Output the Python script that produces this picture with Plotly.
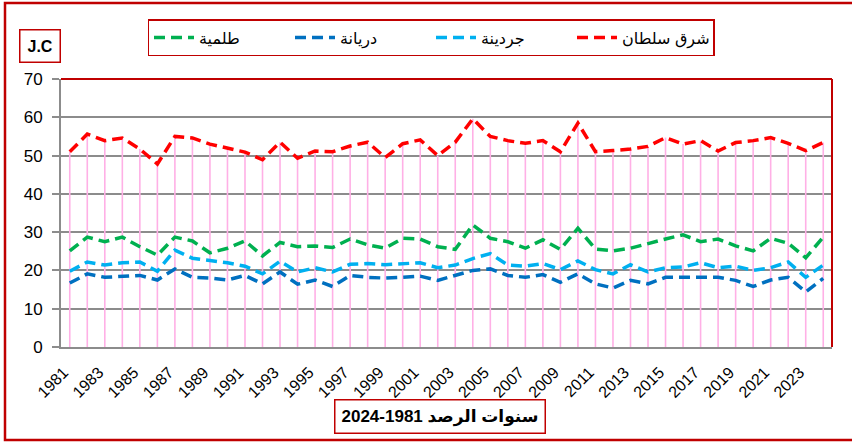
import plotly.graph_objects as go

years = list(range(1981, 2025))

sharq_sultan = [51.0, 55.6, 53.9, 54.6, 51.7, 47.8, 55.0, 54.6, 53.0, 51.9, 50.9, 48.9, 53.5, 49.3,
                51.2, 51.0, 52.5, 53.5, 49.5, 53.1, 54.1, 50.0, 53.5, 59.6, 55.0, 53.9, 53.2, 53.9, 51.0,
                58.5, 51.0, 51.3, 51.7, 52.4, 54.7, 53.0, 53.9, 51.2, 53.4, 53.9, 54.7, 53.2, 51.3, 53.4]

jerdina = [19.8, 22.2, 21.4, 22.0, 22.2, 19.8, 25.3, 23.2, 22.6, 22.0, 21.1, 19.1, 22.4, 19.6,
           20.7, 19.6, 21.6, 21.8, 21.5, 21.8, 22.0, 20.7, 21.4, 23.1, 24.4, 21.4, 21.1, 21.8, 20.2,
           22.5, 20.2, 19.1, 21.5, 19.6, 20.7, 20.9, 22.0, 20.7, 21.1, 20.0, 20.7, 22.2, 18.2, 21.4]

driana = [16.7, 19.1, 18.2, 18.5, 18.7, 17.5, 20.4, 18.2, 18.0, 17.5, 18.7, 16.5, 19.6, 16.4,
          17.5, 15.8, 18.7, 18.2, 18.0, 18.2, 18.5, 17.4, 18.7, 20.0, 20.4, 18.7, 18.2, 18.9, 16.9,
          19.1, 16.5, 15.4, 17.4, 16.5, 18.2, 18.2, 18.4, 18.2, 17.4, 15.8, 17.5, 18.2, 14.4, 17.9]

tolmeita = [25.1, 28.7, 27.5, 28.7, 26.2, 24.0, 28.7, 27.7, 24.6, 25.8, 27.7, 23.8, 27.3, 26.2,
            26.4, 26.0, 28.2, 26.7, 25.8, 28.4, 28.2, 26.2, 25.5, 31.9, 28.4, 27.5, 25.8, 28.0, 25.5,
            31.0, 25.6, 25.1, 25.8, 27.1, 28.2, 29.3, 27.5, 28.2, 26.4, 25.1, 28.4, 27.1, 23.3, 28.7]

names = ["طلمية", "دريانة", "جردينة", "شرق سلطان"]
series = [tolmeita, driana, jerdina, sharq_sultan]
colors = ["#00B050", "#0070C0", "#00B0F0", "#FF0000"]

tick_years = list(range(1981, 2025, 2))

DARK_RED = "#C00000"
FONT = "Arial, Liberation Sans, DejaVu Sans, sans-serif"

fig = go.Figure()

# drop lines from the top series down to the axis
dx, dy = [], []
for x, v in zip(years, sharq_sultan):
    dx += [x, x, None]
    dy += [0, v, None]
fig.add_trace(go.Scatter(x=dx, y=dy, mode="lines", line=dict(color="#FFB0E6", width=1.6),
                         showlegend=False, hoverinfo="skip"))

for name, vals, col in zip(names, series, colors):
    fig.add_trace(go.Scatter(x=years, y=vals, name=name, mode="lines",
                             line=dict(color=col, width=3.5, dash="11px,6px")))

L, R, T, B = 61, 20, 79, 95
W, H = 852, 442
pw, ph = W - L - R, H - T - B


def px(xp):
    return (xp - L) / pw


def py(yp):
    return (H - B - yp) / ph


fig.update_layout(
    width=W, height=H,
    margin=dict(l=L, r=R, t=T, b=B),
    paper_bgcolor="white", plot_bgcolor="white",
    font=dict(family=FONT, color="black", size=16),
    showlegend=True,
    legend=dict(orientation="h", x=px(431), xanchor="center", y=py(19), yanchor="top",
                bordercolor=DARK_RED, borderwidth=1.5, bgcolor="white",
                font=dict(size=16, family=FONT), entrywidth=86, entrywidthmode="pixels",
                itemwidth=40, tracegroupgap=0),
    xaxis=dict(range=[1980.5, 2024.5], tickvals=tick_years, ticktext=[str(y) for y in tick_years],
               tickangle=-45, tickfont=dict(size=16), showgrid=False, zeroline=False,
               showline=True, linecolor="#8C8C8C", linewidth=1.5, ticks="",
               ticklabelstandoff=8, ticklabelshift=-6),
    yaxis=dict(range=[0, 70], dtick=10, tickfont=dict(size=17), showgrid=True,
               gridcolor="#8C8C8C", gridwidth=1.5, zeroline=False, showline=True,
               linecolor="#8C8C8C", linewidth=2, ticks="outside", ticklen=7,
               tickcolor="#8C8C8C", tickwidth=1.5, ticklabelstandoff=6),
    shapes=[
        dict(type="rect", xref="paper", yref="paper", x0=px(5), x1=px(870), y0=py(440), y1=py(3),
             line=dict(color=DARK_RED, width=2.5), layer="below"),
        dict(type="line", xref="paper", yref="paper", x0=0, x1=1, y0=1, y1=1,
             line=dict(color=DARK_RED, width=2)),
        dict(type="line", xref="paper", yref="paper", x0=1, x1=1, y0=0, y1=1,
             line=dict(color=DARK_RED, width=2)),
    ],
    annotations=[
        dict(text="<b>J.C</b>", xref="paper", yref="paper", x=px(40), y=py(46),
             xanchor="center", yanchor="middle",
             showarrow=False, font=dict(size=16, family="Liberation Sans, Arial, sans-serif"),
             bordercolor=DARK_RED, borderwidth=1.5, borderpad=7, bgcolor="white"),
        dict(text="<b>2024-1981 سنوات الرصد</b>", xref="paper", yref="paper", x=px(440), y=py(416),
             xanchor="center", yanchor="middle",
             showarrow=False, font=dict(size=17), bordercolor=DARK_RED, borderwidth=1.5,
             borderpad=6),
    ],
)

fig.write_html("out.html", config={"displayModeBar": False},
               post_script="document.body.style.margin='0px';")
